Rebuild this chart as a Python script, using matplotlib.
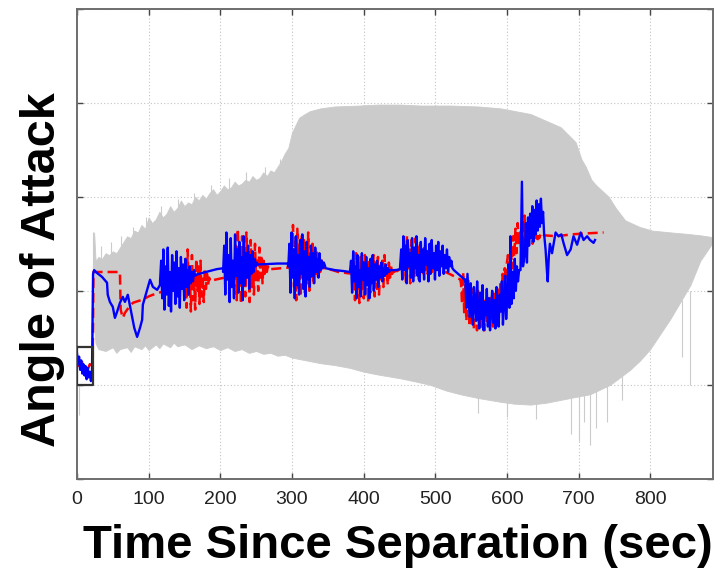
import numpy as np
import matplotlib
matplotlib.use("Agg")
import matplotlib.pyplot as plt

plt.rcParams['font.family'] = ['Liberation Sans', 'DejaVu Sans']

# ---- dispersion envelope (Monte Carlo runs, grey) ----
env_up_t = [22, 24, 26, 30, 35, 40, 45, 50, 55, 60, 65, 70, 75, 80, 85, 90, 95, 100,
            105, 110, 115, 120, 125, 130, 135, 140, 145, 150, 155, 160, 165, 170, 175,
            180, 185, 190, 195, 200, 205, 210, 215, 220, 225, 230, 235, 240, 245, 250,
            255, 260, 265, 270, 275, 280, 285, 290, 295, 300, 305, 310, 318, 325, 340,
            360, 395, 420, 451, 480, 521, 560, 591, 633, 675, 696, 704, 710, 718, 725,
            742, 752, 765, 785, 803, 830, 851, 870, 888]
env_up_y = [1.1, 3.1, 1.6, 1.8, 1.7, 2.0, 1.9, 2.1, 2.0, 2.3, 2.6, 2.9, 2.8, 3.2, 3.1,
            3.5, 3.3, 3.9, 3.6, 3.8, 4.2, 3.9, 4.1, 4.5, 4.2, 4.4, 4.8, 4.5, 4.7, 4.6,
            5.0, 4.8, 5.1, 4.9, 5.2, 5.4, 5.1, 5.3, 5.6, 5.4, 5.5, 5.8, 5.6, 5.7, 5.9,
            5.8, 6.1, 5.9, 6.0, 6.3, 6.1, 6.4, 6.3, 6.6, 6.9, 7.3, 7.6, 8.4, 8.8, 9.2,
            9.4, 9.55, 9.7, 9.8, 9.85, 9.9, 9.9, 9.85, 9.85, 9.8, 9.7, 9.4, 8.7, 7.9,
            7.0, 6.6, 5.9, 5.6, 5.0, 4.4, 3.75, 3.4, 3.2, 3.1, 3.03, 2.95, 2.85]
env_lo_t = [22, 24, 26, 30, 40, 50, 55, 60, 70, 75, 80, 90, 95, 100, 110, 115, 120,
            130, 135, 140, 150, 160, 170, 180, 190, 200, 210, 220, 230, 240, 250, 260,
            270, 280, 290, 300, 320, 340, 360, 381, 400, 420, 451, 470, 493, 515, 535,
            560, 591, 610, 633, 655, 675, 695, 716, 730, 744, 758, 772, 786, 800, 814,
            828, 842, 856, 870, 888]
env_lo_y = [0.0, -2.0, -2.8, -3.1, -3.2, -3.0, -3.3, -3.1, -3.0, -3.25, -2.95, -3.1,
            -2.9, -3.15, -2.85, -3.05, -2.8, -3.0, -2.75, -2.95, -2.85, -3.1, -2.9,
            -3.05, -2.95, -3.15, -3.0, -3.2, -3.1, -3.3, -3.2, -3.35, -3.3, -3.45, -3.4,
            -3.55, -3.7, -3.85, -3.95, -4.1, -4.3, -4.45, -4.65, -4.8, -5.0, -5.3, -5.5,
            -5.7, -5.9, -6.0, -6.05, -5.95, -5.8, -5.65, -5.5, -5.25, -5.0, -4.6, -4.2,
            -3.7, -3.1, -2.3, -1.5, -0.6, 0.3, 1.6, 2.6]
# stray single runs sticking out of the envelope: time, low, high
streak_t = [3, 22, 33, 47, 62, 78, 97, 118, 141, 163, 187, 212, 236, 262, 283,
            560, 600, 640, 690, 700, 708, 716, 725, 740, 760, 845, 856]
streak_lo = [-6.6, -2.6, 1.5, 1.8, 2.1, 2.6, 3.1, 3.6, 4.1, 4.4, 4.9, 5.2, 5.6, 5.9, 6.4,
             -6.5, -6.7, -6.8, -7.6, -8.0, -7.0, -8.2, -7.3, -7.0, -5.8, -3.5, -5.0]
streak_hi = [-5.0, 3.1, 2.4, 2.6, 2.9, 3.4, 3.9, 4.5, 4.9, 5.2, 5.6, 6.0, 6.3, 6.6, 7.0,
             -5.6, -5.8, -6.0, -5.6, -5.6, -5.5, -5.4, -5.2, -5.0, -4.5, -0.5, 0.0]

# ---- blue (flight) trace: smooth pieces and oscillating bursts ----
blue_t0 = [0, 1.5, 3, 4.5, 6, 7.5, 9, 10.5, 12, 13.5, 15, 16.5, 18, 19.5, 21]
blue_y0 = [-3.3, -3.9, -3.5, -4.2, -3.7, -4.4, -3.9, -4.5, -4.0, -4.7, -4.1, -4.6, -4.3, -4.8, -4.4]
blue_t1 = [22.5, 24, 28, 35, 42, 43, 46, 50, 53, 56, 60, 64, 67, 71, 77, 80, 84, 88,
           91, 92, 98, 102, 106, 112, 116]
blue_y1 = [0.9, 1.1, 0.95, 0.74, 0.43, -0.21, -0.59, -0.85, -1.44, -1.12, -0.64, -0.32,
           -0.59, -0.21, -1.38, -1.97, -2.45, -1.97, -1.54, -0.74, 0.05, 0.59, 0.21, 0.05, 0.32]
blue_b1 = [0.5, 1.6, -0.4, 2.2, -1.0, 1.3, -0.2, 2.3, -0.8, 1.0, -1.1, 1.9, 0.0, 1.5,
           -0.7, 2.1, -0.3, 1.2, -0.9, 1.8, 0.1, 1.4, -0.5, 1.7, 0.2, 1.1, -0.2, 1.3, 0.4,
           1.0, 0.5, 1.1, 0.8]
blue_t2 = [166, 175, 185, 195, 204]
blue_y2 = [0.85, 0.95, 1.05, 1.15, 1.2]
blue_b2 = [1.0, 2.4, -0.2, 3.1, 0.6, 1.9, -0.6, 2.8, 0.2, 1.6, -0.4, 3.0, 0.8, 2.2, -0.1,
           2.6, 0.4, 1.8, -0.5, 2.9, 0.3, 2.0, 0.7, 2.4, 0.1, 1.9, 0.9, 2.1, 1.0, 1.7, 1.3, 1.5]
blue_t3 = [252, 265, 280, 294]
blue_y3 = [1.4, 1.42, 1.45, 1.45]
blue_b3 = [1.3, 2.5, -0.1, 3.1, 0.7, 2.2, -0.4, 2.9, 0.3, 1.9, -0.2, 2.7, 0.9, 3.0, 0.1,
           2.1, -0.3, 2.6, 0.6, 1.8, 0.2, 2.4, 0.8, 2.0, 0.4, 2.3, 1.0, 1.7, 0.7, 2.0, 1.1,
           1.6, 1.2, 1.5, 1.35]
blue_t4 = [347, 360, 372, 381]
blue_y4 = [1.2, 1.1, 1.05, 1.0]
blue_b4 = [1.0, 1.6, -0.1, 2.1, 0.5, 1.3, -0.4, 1.9, 0.2, 1.1, -0.3, 2.0, 0.6, 1.5, -0.2,
           1.8, 0.3, 1.2, -0.4, 1.7, 0.4, 1.9, 0.0, 1.4, 0.6, 1.6, 0.2, 1.3, 0.7, 1.5, 0.5,
           1.2, 0.8, 1.4, 0.9, 1.2, 1.0, 1.1]
blue_t5 = [438, 445, 451]
blue_y5 = [1.1, 1.1, 1.15]
blue_b5 = [1.3, 2.2, 0.6, 2.9, 1.1, 2.4, 0.4, 2.7, 1.3, 2.0, 0.7, 2.8, 0.5, 2.3, 1.2, 2.9,
           0.8, 1.9, 0.5, 2.6, 1.0, 2.2, 0.6, 2.8, 1.4, 2.1, 0.5, 2.5, 0.9, 2.7, 1.2, 2.0,
           0.6, 2.4, 1.1, 2.6, 0.8, 2.1, 1.3, 2.4, 0.9, 1.9, 1.2, 2.2, 1.0, 1.8, 1.3, 1.6, 1.2]
blue_t6 = [526, 532, 538, 542]
blue_y6 = [1.1, 0.9, 0.7, 0.55]
blue_b6 = [0.6, -0.9, 0.9, -0.3, -1.4, 0.4, -1.0, -1.8, 0.2, -0.6, -1.6, 0.5, -1.2, -2.0,
           -0.1, -1.5, 0.3, -2.1, -0.6, -1.3, 0.1, -1.9, -0.4, -2.1, -0.9, 0.0, -1.7, -0.5,
           -2.0, 0.2, -1.4, -1.9, -0.2, -1.1, 0.5, -1.8, -0.6, 0.8, -1.5, -0.3, 1.4, -0.9,
           2.9, -0.7, 1.0, -0.4, 1.7, 0.0, 1.3, 0.5, 1.1]
blue_t7 = [619, 621, 622.5, 625, 626.5, 628, 629.5, 631, 632.5, 634, 635.5, 637, 638.5,
           640, 641.5, 643, 644.5, 646, 647.5, 649, 650.5, 652, 654, 656, 657, 658.5, 660,
           663, 668, 672, 676, 679, 684, 689, 693, 698, 703, 707, 712, 716, 721, 723]
blue_y7 = [1.1, 5.8, 1.3, 2.0, 3.6, 1.5, 3.9, 2.4, 4.1, 2.8, 4.5, 2.6, 4.3, 3.0, 4.8, 3.2,
           4.6, 3.4, 4.9, 3.6, 4.2, 3.0, 2.2, 1.0, 0.5, 1.8, 2.5, 2.0, 3.1, 2.9, 3.0, 2.55,
           1.9, 2.2, 2.9, 2.45, 3.1, 2.7, 2.9, 2.7, 2.55, 2.7]
# burst time spans (start, end) in sec
blue_spans = [(116, 165), (204, 251), (295, 346), (381, 437), (451, 524), (542, 617)]

# ---- red (nominal) trace ----
red_t0 = [0, 3, 6, 9, 12, 15, 18, 21]
red_y0 = [-3.8, -4.0, -3.6, -4.1, -3.9, -4.2, -3.9, -4.0]
red_t1 = [22, 23, 30, 40, 50, 60, 61, 64, 67, 72, 78, 85, 91, 100, 110, 119, 130, 140, 150]
red_y1 = [-4.0, 1.0, 1.0, 1.0, 1.0, 1.0, -1.0, -1.44, -1.17, -0.9, -0.64, -0.55, -0.48,
          -0.3, -0.15, -0.05, 0.1, 0.2, 0.3]
red_b1 = [0.3, 1.5, -0.9, 2.2, -0.2, 1.1, -1.1, 1.9, -0.5, 0.9, -1.0, 1.7, 0.0, 1.3, -0.7,
          1.6, -0.3, 0.8, -0.6, 1.2, 0.1, 0.9, 0.3, 0.7, 0.5]
red_t2 = [188, 200, 212, 220]
red_y2 = [0.55, 0.65, 0.75, 0.8]
red_b2 = [0.9, 2.4, -0.5, 3.3, 0.4, 2.0, -0.7, 2.9, 0.1, 1.7, -0.3, 3.1, 0.6, 2.2, -0.6,
          2.7, 0.2, 1.8, -0.2, 2.5, 0.5, 1.6, 0.0, 2.3, 0.7, 1.9, 0.4, 1.6, 0.9, 1.4, 1.0, 1.3, 1.1]
red_t3 = [270, 285, 300]
red_y3 = [1.15, 1.2, 1.25]
red_b3 = [1.3, 3.5, 0.2, 2.6, -0.5, 3.3, 0.5, 2.2, -0.3, 3.0, 0.8, 2.7, -0.1, 2.4, 0.4,
          3.1, 0.0, 2.0, 0.6, 2.5, 0.3, 1.9, 0.9, 2.2, 0.7, 1.8, 1.0, 1.7, 1.1, 1.5, 1.2, 1.25]
red_t4 = [348, 365, 385]
red_y4 = [1.2, 1.0, 0.9]
red_b4 = [0.8, 1.6, -0.5, 2.0, 0.2, 1.3, -0.65, 1.8, 0.0, 1.1, -0.4, 1.9, 0.3, 1.4, -0.6,
          1.7, -0.1, 1.2, 0.4, 1.9, -0.3, 1.5, 0.1, 1.8, -0.2, 1.3, 0.5, 1.6, 0.2, 1.9, 0.6,
          1.2, 0.3, 1.5, 0.7, 1.3, 0.9, 1.2, 1.0, 1.1, 1.05]
red_t5 = [447, 452, 456]
red_y5 = [1.05, 1.2, 1.6]
red_b5 = [1.6, 2.4, 0.5, 2.9, 1.1, 2.2, 0.4, 2.7, 1.3, 2.0, 0.7, 2.8, 1.0, 2.3, 0.6, 2.6,
          1.2, 1.9, 0.8, 2.4, 1.1, 2.0, 0.9, 2.2, 1.3, 1.8, 1.0, 2.0, 1.2, 1.7, 1.3, 1.5,
          1.2, 1.15]
red_t6 = [508, 520, 535]
red_y6 = [1.1, 0.9, 0.6]
red_b6 = [0.4, -0.7, 1.0, -1.2, 0.3, -1.6, -0.2, 0.6, -1.9, -0.8, 0.1, -1.4, -2.0, -0.3,
          -1.1, -2.1, 0.0, -1.6, -0.7, -1.9, -0.2, -1.3, -2.1, -0.5, -1.7, -1.0, -2.0, -0.3,
          -1.5, -0.9, -1.9, 0.0, -1.2, -0.4, -1.5, 0.2, -0.8, 0.5, -0.4, 0.9, 0.0, 1.2,
          0.6, 1.5, 1.9, 1.2]
red_b7 = [1.4, 2.3, 1.2, 2.9, 1.8, 3.3, 2.0, 3.6, 2.4, 3.1, 2.2, 3.8, 2.6, 4.0, 2.9, 3.5,
          2.3, 3.7, 2.7, 3.2, 2.5, 3.4, 2.8, 3.0, 2.6, 2.9, 2.8, 3.0, 2.9, 3.0]
red_t8 = [652, 670, 690, 710, 735]
red_y8 = [2.95, 2.9, 3.0, 3.05, 3.1]
red_spans = [(150, 186), (220, 268), (300, 347), (385, 446), (456, 506), (536, 603), (604, 650)]

# small inset frame at launch
box_t = [0, 22, 22, 0]
box_y = [-2.98, -2.98, -5.0, -5.0]

xticks = [0, 100, 200, 300, 400, 500, 600, 700, 800]
yticks = [-10, -5, 0, 5, 10, 15]


def join(pieces, bursts, spans):
    # interleave smooth pieces (t, y) with bursts sampled evenly over their span
    ts, ys = [], []
    for i, (pt, py) in enumerate(pieces):
        ts += list(pt)
        ys += list(py)
        if i < len(bursts):
            a, b = spans[i]
            ts += list(np.linspace(a, b, len(bursts[i])))
            ys += list(bursts[i])
    return np.array(ts), np.array(ys)


blue_x, blue_v = join([(blue_t0, blue_y0), (blue_t1, blue_y1), (blue_t2, blue_y2),
                       (blue_t3, blue_y3), (blue_t4, blue_y4), (blue_t5, blue_y5),
                       (blue_t6, blue_y6), (blue_t7, blue_y7)],
                      [[], blue_b1, blue_b2, blue_b3, blue_b4, blue_b5, blue_b6],
                      [(0, 0)] + blue_spans)
red_x, red_v = join([(red_t0, red_y0), (red_t1, red_y1), (red_t2, red_y2), (red_t3, red_y3),
                     (red_t4, red_y4), (red_t5, red_y5), (red_t6, red_y6), ([], []),
                     (red_t8, red_y8)],
                    [[], red_b1, red_b2, red_b3, red_b4, red_b5, red_b6, red_b7],
                    [(0, 0)] + red_spans)

fig = plt.figure(figsize=(7.19, 5.77), dpi=100)
ax = fig.add_axes([0.107, 0.170, 0.885, 0.815])

grey = '#cbcbcb'
t_env = np.union1d(env_up_t, env_lo_t)
ax.fill_between(t_env, np.interp(t_env, env_lo_t, env_lo_y),
                np.interp(t_env, env_up_t, env_up_y), color=grey, lw=0.6,
                edgecolor=grey, zorder=1)
ax.vlines(streak_t, streak_lo, streak_hi, color=grey, lw=0.8, zorder=1)

ax.plot(red_x, red_v, color='red', lw=1.8, ls=(0, (4, 2)), zorder=3)
ax.plot(blue_x, blue_v, color='blue', lw=1.7, zorder=4)

ax.plot(box_t + [box_t[0]], box_y + [box_y[0]], color='#333333', lw=1.6, zorder=5)

ax.set_xlim(0, 888)
ax.set_ylim(-10, 15)
ax.set_xticks(xticks)
ax.set_yticks(yticks)
ax.set_yticklabels([])
ax.grid(True, color='#c4c4c4', ls=(0, (1, 2)), lw=0.8, zorder=0)
ax.set_axisbelow(True)
ax.tick_params(direction='in', length=4, width=1, color='#444444', top=True, right=True,
               labelsize=14, labelcolor='#222222', pad=9)
for s in ax.spines.values():
    s.set_color('#6e6e6e')
    s.set_linewidth(1.4)

ax.set_xlabel('Time Since Separation (sec)', fontsize=34, fontweight='bold')
ax.xaxis.set_label_coords(0.505, -0.096)
ax.set_ylabel('Angle of Attack', fontsize=35, fontweight='bold')
ax.yaxis.set_label_coords(-0.019, 0.445)

fig.savefig('out.png', dpi=100)
